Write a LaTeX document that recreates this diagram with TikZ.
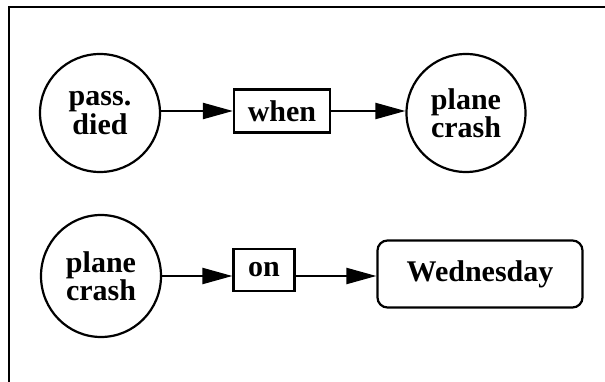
\documentclass[tikz,border=0pt]{standalone}
\usepackage{fontspec}
\setmainfont{Liberation Serif}
\usetikzlibrary{arrows.meta, shapes.geometric}
\begin{document}
\begin{tikzpicture}[x=1pt, y=-1pt, line width=2.2pt,
  arr/.style={-{Triangle[length=30pt, width=16pt]}},
  concept/.style={draw, ellipse, inner sep=0pt, align=center,
    font=\fontsize{30}{25}\selectfont\bfseries},
  rel/.style={draw, rectangle, inner sep=0pt,
    font=\fontsize{30}{25}\selectfont\bfseries},
  value/.style={draw, rectangle, rounded corners=10pt, inner sep=0pt,
    font=\fontsize{30}{25}\selectfont\bfseries}]
\useasboundingbox (0,0) rectangle (605,382);
% frame
\draw[line width=1.6pt] (9,382) -- (9,7) -- (605,7);
% first graph
\node[concept, minimum width=120pt, minimum height=118pt] (pd) at (100,113) {pass.\\died};
\node[rel, minimum width=96pt, minimum height=43pt] (when) at (282,111) {when};
\node[concept, minimum width=119pt, minimum height=118pt] (pc1) at (466,113) {plane\\crash};
\draw[arr] (pd.east |- when) -- (when);
\draw[arr] (when) -- (pc1.west |- when);
% second graph
\node[concept, minimum width=120pt, minimum height=122pt] (pc2) at (101,276) {plane\\crash};
\node[rel, minimum width=61pt, minimum height=42pt] (on) at (264,270) {on};
\node[value, minimum width=205pt, minimum height=67pt] (wed) at (480,274) {Wednesday};
\draw[arr] (pc2) -- (pc2 -| on.west);
\draw[arr] (pc2 -| on.east) -- (pc2 -| wed.west);
\end{tikzpicture}
\end{document}
